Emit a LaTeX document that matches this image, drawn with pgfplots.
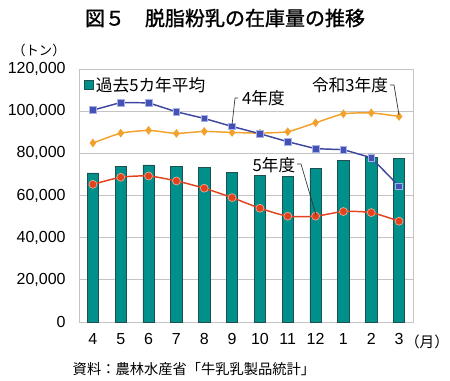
\documentclass[border=0pt]{standalone}
\usepackage{pgfplots}
\pgfplotsset{compat=1.18}
\usepackage{fontspec}
\setmainfont{Liberation Sans}
\newfontfamily\jp{Noto Sans CJK JP}
\newfontfamily\jpb[FakeBold=1.3]{Noto Sans CJK JP}
\definecolor{barteal}{HTML}{00908C}
\definecolor{baredge}{HTML}{1E5050}
\definecolor{lblue}{HTML}{3E48A0}
\definecolor{mblue}{HTML}{4352B4}
\definecolor{mblueedge}{HTML}{A8B0E8}
\definecolor{lorange}{HTML}{F2A22C}
\definecolor{lred}{HTML}{E2431E}
\definecolor{mrededge}{HTML}{F4A890}
\definecolor{gridc}{HTML}{C4C4C4}
\begin{document}
\begin{tikzpicture}
\useasboundingbox (-59.25pt,-43.5pt) rectangle (278.25pt,241.5pt);
\begin{axis}[
  at={(0,0)}, anchor=south west,
  scale only axis, width=250.5pt, height=189.75pt,
  xmin=-0.5, xmax=11.5, ymin=0, ymax=120000,
  xtick={0,...,11},
  xticklabels={4,5,6,7,8,9,10,11,12,1,2,3},
  ytick={0,20000,40000,60000,80000,100000,120000},
  yticklabels={0,{20,000},{40,000},{60,000},{80,000},{100,000},{120,000}},
  scaled y ticks=false,
  tick style={draw=none},
  major tick length=0pt,
  ymajorgrids, grid style={gridc, line width=0.6pt},
  axis line style={draw=gridc, line width=0.6pt},
  ticklabel style={font=\fontsize{12}{14}\selectfont},
  yticklabel style={xshift=-6.5pt},
  xticklabel style={yshift=-5pt},
  legend style={at={(0.01,0.985)}, anchor=north west, draw=none, fill=none,
    font=\jp\fontsize{12.5}{15}\selectfont, inner sep=1pt},
  legend cell align=left,
]
\addplot[ybar, bar width=8.5pt, fill=barteal, draw=baredge, line width=0.6pt,
  legend image code/.code={\draw[fill=barteal,draw=baredge,line width=0.4pt] (0pt,-3.3pt) rectangle (6.6pt,3.3pt);}]
coordinates {(0,70700) (1,73700) (2,74500) (3,73850) (4,73200) (5,71000) (6,69600) (7,69100) (8,72700) (9,76700) (10,77950) (11,77500)};
\addlegendentry{過去5カ年平均}
% 令和3年度
\addplot[forget plot, lorange, line width=1.1pt, smooth, tension=0.3, mark=diamond*, mark size=2.4pt, mark options={fill=lorange, draw=lorange}]
coordinates {(0,84900) (1,89600) (2,90900) (3,89450) (4,90400) (5,89900) (6,89600) (7,90250) (8,94500) (9,98750) (10,99200) (11,97500)};
% 4年度
\addplot[forget plot, lblue, line width=1.1pt, mark=square*, mark size=2.5pt, mark options={fill=mblue, draw=mblueedge, line width=0.5pt}]
coordinates {(0,100500) (1,104100) (2,103950) (3,99700) (4,96550) (5,92750) (6,89300) (7,85500) (8,82200) (9,81750) (10,77950) (11,64400)};
% 5年度
\addplot[forget plot, lred, line width=1.1pt, smooth, tension=0.4, mark=*, mark size=3pt, mark options={fill=lred, draw=mrededge, line width=0.5pt}]
coordinates {(0,65300) (1,68650) (2,69250) (3,66900) (4,63450) (5,59000) (6,53950) (7,50200) (8,50200) (9,52400) (10,51900) (11,47800)};
\end{axis}
% leaders
\draw[black!80, line width=0.5pt] (119.25pt,168pt) -- (117pt,168pt) -- (114.75pt,147.75pt);
\draw[black!80, line width=0.5pt] (233.25pt,177.75pt) -- (236.25pt,177.75pt) -- (240pt,155.25pt);
\draw[black!80, line width=0.5pt] (163.5pt,118.5pt) -- (166.5pt,118.5pt) -- (177.75pt,80.25pt);
% annotations
\node[font=\jp\fontsize{12.5}{15}\selectfont, inner sep=0pt] at (138.4pt,168pt) {4年度};
\node[font=\jp\fontsize{12.5}{15}\selectfont, inner sep=0pt] at (203.25pt,177.75pt) {令和3年度};
\node[font=\jp\fontsize{12.5}{15}\selectfont, inner sep=0pt] at (146.25pt,117.75pt) {5年度};
% outer texts
\node[font=\jpb\fontsize{15}{18}\selectfont, inner sep=0pt] at (109.5pt,228pt) {図５　脱脂粉乳の在庫量の推移};
\node[font=\jp\fontsize{10}{12}\selectfont, inner sep=0pt] at (-30pt,204pt) {（トン）};
\node[font=\jp\fontsize{11}{13}\selectfont, inner sep=0pt] at (261pt,-15pt) {（月）};
\node[font=\jp\fontsize{10.7}{13}\selectfont, inner sep=0pt] at (86.25pt,-35.25pt) {資料：農林水産省「牛乳乳製品統計」};
\end{tikzpicture}
\end{document}
